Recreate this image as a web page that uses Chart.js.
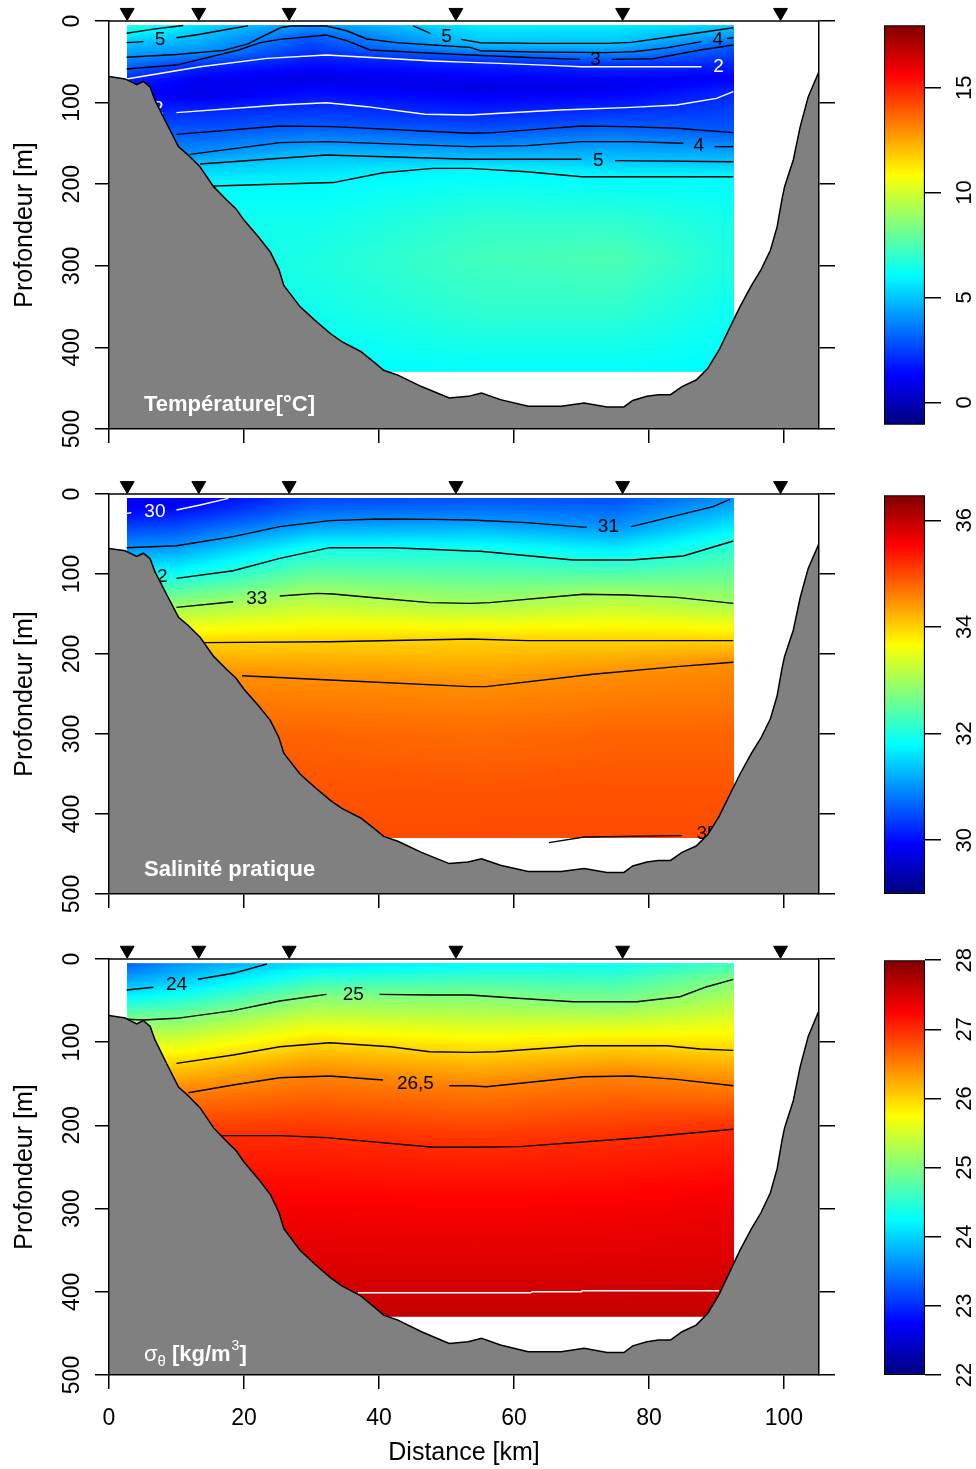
<!DOCTYPE html>
<html>
<head>
<meta charset="utf-8">
<script src="https://cdn.jsdelivr.net/npm/chart.js@4.4.1/dist/chart.umd.min.js"></script>
<style>
  body { margin: 0; background: #fff; width: 976px; height: 1469px; position: relative; overflow: hidden; }
  canvas { position: absolute; }
</style>
</head>
<body>
<canvas id="temp" width="860" height="450" style="left:0;top:0;width:860px;height:450px"></canvas>
<canvas id="sal" width="860" height="450" style="left:0;top:470px;width:860px;height:450px"></canvas>
<canvas id="sig" width="860" height="534" style="left:0;top:935px;width:860px;height:534px"></canvas>
<canvas id="cbTemp" width="116" height="450" style="left:860px;top:0;width:116px;height:450px"></canvas>
<canvas id="cbSal" width="116" height="450" style="left:860px;top:470px;width:116px;height:450px"></canvas>
<canvas id="cbSig" width="116" height="534" style="left:860px;top:935px;width:116px;height:534px"></canvas>
<script>
// axes
const DIST_MAX = 105.2;
const DEPTH_MAX = 500;
const DIST_TICKS = [0, 20, 40, 60, 80, 100];
const DEPTH_TICKS = [0, 100, 200, 300, 400, 500];

// stations (km)
const STATIONS = [2.7, 13.3, 26.7, 51.4, 76.1, 99.5];
const STATION_MARK = -10.5; // marker sits just above the surface

// bottom profile
const BATHY_KM = [0, 2.4, 4.1, 5.1, 6.1, 6.8, 8.5, 10.3, 11.7, 13.5, 15.5, 17.4, 18.8, 20.0, 22.1, 23.9, 25.2, 25.9, 28.3, 30.4,
  32.8, 34.5, 37.3, 39.4, 40.7, 42.8, 46.3, 50.4, 53.2, 55.2, 58.0, 62.1, 67.0, 70.4, 73.8, 76.3, 77.6, 79.7, 81.4, 83.2,
  84.9, 87.0, 88.7, 90.4, 91.8, 93.5, 95.2, 96.6, 98.0, 99.0, 99.7, 100.1, 101.4, 102.4, 103.6, 105.2];
const BATHY_DEPTH = [68, 71, 78, 74, 81, 97, 125, 154, 164, 179, 203, 219, 230, 244, 264, 283, 305, 324, 350, 366,
  383, 393, 405, 419, 428, 434, 448, 462, 460, 456, 464, 472, 472, 468, 473, 473, 465, 460, 458, 458,
  448, 440, 426, 403, 379, 350, 324, 305, 281, 252, 219, 203, 170, 130, 93, 62];

// gridded field extent
const FIELD_KM = [2.6, 92.6];
const FIELD_DEPTH = [5, 430];

// temperature: profiles read at a few distances
const TEMP_RANGE = [-1.07, 17.98];
const TEMP_CB_TICKS = [0, 5, 10, 15];
const TEMP_COL_KM = [2.6, 13.5, 30, 55, 75, 92.6];
const TEMP_COL_DEPTH = [
  [5, 15, 26.5, 44.5, 58.8, 71, 90, 110, 136, 160],
  [5, 16.3, 38.5, 47, 56, 75, 90, 110, 136.6, 161.8, 175.2, 200, 250, 430],
  [5, 19, 42.7, 70, 101, 129, 148, 165.5, 199, 250, 300, 350, 430],
  [5, 26.6, 36.4, 42.2, 51.4, 80, 114.5, 137, 153.7, 169.5, 182, 250, 290, 350, 430],
  [5, 27, 38.4, 47, 56, 80, 106.6, 129.2, 147.8, 171, 190.8, 250, 290, 350, 430],
  [5, 8.2, 20.5, 29.4, 52, 70, 86.6, 136.8, 154, 172.4, 190.8, 250, 300, 350, 430]
];
const TEMP_COL_VALUE = [
  [6.8, 6, 5, 4, 3, 2, 1.4, 2, 3, 4],
  [5.5, 5, 4, 3, 2, 1.0, 0.9, 2, 3, 4, 5, 6, 6.4, 6.0],
  [4.1, 3, 2, 0.8, 2, 3, 4, 5, 6, 6.4, 6.6, 6.4, 6.0],
  [5.8, 5, 4, 3, 2, 0.8, 2, 3, 4, 5, 6, 7.0, 7.3, 7.0, 6.1],
  [5.8, 5, 4, 3, 2, 0.9, 2, 3, 4, 5, 6, 7.0, 7.5, 7.0, 6.1],
  [5.3, 5, 4, 3, 2, 1.2, 2, 3, 4, 5, 6, 6.5, 6.6, 6.3, 6.0]
];
const TEMP_LEVELS = [6, 5, 5, 4, 3, 2, 2, 3, 4, 5, 6];
const TEMP_LINES = [
  [[2.6, 15], [6.6, 10], [11, 5.5]],
  [[2.6, 26.5], [5.1, 25.3], null, [10, 20.5], [13.5, 16.3], [17, 11], [20.6, 6]],
  [[45.1, 6.1], [47.6, 15.1], null, [52.2, 22.5], [55, 26.6], [62.9, 27.4], [73.7, 27.4], [77.4, 26.2], [85.1, 17.2], [92.5, 8.2]],
  [[2.6, 44.5], [10, 41], [17, 36], [20.6, 28], [23, 18], [25.5, 8], [27, 6.1], [32.2, 6.1], [35.2, 12], [38.2, 22], [42.6, 26.5],
    [48, 29.5], [53.5, 32.3], [55, 36.4], [62.9, 38], [73.7, 38.8], [77.7, 37.6], [82.6, 33], [87.8, 25.3], null, [91.6, 21.5], [92.5, 20.5]],
  [[2.6, 58.8], [10, 54], [19.2, 35.5], [22.4, 26.5], [25.3, 22.5], [32.2, 17.2], [35.2, 24], [38.7, 35.5], [48, 39.5], [53.5, 41.7],
    [62.9, 45], [69.8, 47], null, [74.5, 47], [80.6, 46.2], [87.6, 35.5], [92.5, 29.4]],
  [[2.6, 71], [13.5, 56], [23.4, 45.8], [32.2, 41.7], [38.2, 44.5], [48, 49], [53.5, 50.7], [57.9, 51.9], [66.3, 54.7], [70, 56], [87.8, 56]],
  [[10, 112.3], [25.3, 102.9], [32.2, 100.1], [38.2, 105], [46.8, 114.3], [53.5, 115.2], [57.9, 113], [66.8, 109], [77.4, 105.8],
    [84.1, 103], [90, 94.8], [92.5, 86.6]],
  [[10, 138.9], [25.3, 128.7], [33.2, 129.5], [53.5, 137.6], [56.9, 136.8], [63.3, 132.8], [70, 128.7], [76.7, 129.5], [84.1, 131.5], [92.5, 136.8]],
  [[12, 163.4], [25.3, 149], [32.2, 147.8], [53.5, 154], [61.9, 152.7], [70, 147.8], [77.4, 147.8], [85.1, 149.9], null, [89.7, 154], [92.5, 154]],
  [[13.5, 175.2], [32.2, 164.2], [53.5, 169.5], [70, 169.5], null, [75, 171.1], [92.5, 172.4]],
  [[15.5, 202.2], [33.2, 198], [40.6, 185.9], [48, 180.6], [53.5, 180.6], [61.9, 184.7], [70, 190.8], [92.5, 190.8]]
];
const TEMP_LABELS = [['5', 7.55, 23.3], ['5', 50.0, 19.2], ['4', 90.2, 23], ['3', 72.1, 47.8], ['2', 90.3, 56],
  ['2', 7.3, 108], ['4', 87.4, 153], ['5', 72.5, 171]];
const TEMP_WHITE = [2];

// salinity
const SAL_RANGE = [28.99, 36.47];
const SAL_CB_TICKS = [30, 32, 34, 36];
const SAL_COL_KM = [2.6, 10, 30, 55, 75, 92.6];
const SAL_COL_DEPTH = [
  [5, 24.2, 67.1, 105, 141, 186, 230, 300, 430],
  [5, 20, 64.6, 105.4, 141.7, 186, 227, 300, 370, 430],
  [5, 36, 72, 125, 185, 230.6, 300, 370, 430],
  [5, 32.8, 71.5, 136.4, 181.5, 240.8, 300, 370, 430],
  [5, 41.3, 82.5, 126, 183.3, 224.4, 300, 370, 428],
  [5, 6.7, 58.75, 136.7, 183.3, 210.4, 300, 370, 430]
];
const SAL_COL_VALUE = [
  [29.85, 30, 31, 32, 33, 34, 34.5, 34.8, 34.97],
  [29.75, 30, 31, 32, 33, 34, 34.5, 34.8, 34.93, 34.97],
  [30.4, 31, 32, 33, 34, 34.5, 34.8, 34.93, 34.97],
  [30.5, 31, 32, 33, 34, 34.5, 34.75, 34.92, 34.99],
  [30.5, 31, 32, 33, 34, 34.5, 34.8, 34.93, 35.0],
  [30.95, 31, 32, 33, 34, 34.5, 34.8, 34.93, 34.98]
];
const SAL_LEVELS = [30, 31, 32, 33, 34, 34.5, 35];
const SAL_LINES = [
  [[2.6, 24.2], [3.3, 23.5], null, [10, 20], [13.5, 13.75], [17.7, 5.4]],
  [[2.6, 67.1], [10, 64.6], [18.4, 53.3], [25.3, 40.8], [32.7, 33.3], [40.1, 31.25], [48, 31.7], [53.5, 32.5], [61.9, 35.8], [70.8, 41.7],
    null, [77.4, 40.8], [89.5, 15.8], [92, 6.7]],
  [[10, 105.4], [18.4, 96], [25.3, 80.4], [32.7, 67.1], [42.1, 67.1], [53.5, 71.25], [55, 71.5], [68.8, 82.5], [77.4, 82.5], [85.1, 77.5], [92.5, 58.75]],
  [[10, 141.7], [18.4, 134.6], null, [25.3, 127.5], [30.8, 124.2], [33.2, 125], [40.1, 130.4], [47.5, 135.8], [53.5, 136.7], [56.4, 135.8],
    [70.3, 125.4], [76.7, 126.25], [84.1, 129.2], [92.5, 136.7]],
  [[14.2, 185.8], [32.7, 184.6], [53.5, 181.25], [61.9, 183.3], [92.5, 183.3]],
  [[19.7, 227.1], [32.7, 232.5], [53.5, 240.8], [55.9, 240.8], [71.7, 225.4], [84.1, 215.8], [92.5, 210.4]],
  [[65.2, 435.8], [70.4, 428.7], [84.9, 427]]
];
const SAL_LABELS = [['30', 6.8, 22.1], ['31', 74.0, 40.8], ['32', 7.1, 103], ['33', 21.9, 130.4], ['35', 88.6, 425]];
const SAL_WHITE = [30];

// potential density anomaly
const SIG_RANGE = [22, 28];
const SIG_CB_TICKS = [22, 23, 24, 25, 26, 27, 28];
const SIG_COL_KM = [2.6, 10, 30, 55, 75, 92.6];
const SIG_COL_DEPTH = [
  [5, 37.3, 72.5, 100, 160, 214, 300, 430],
  [5, 30, 71.3, 125.4, 160, 214, 300, 400, 430],
  [5, 45, 102, 141.3, 214, 300, 400, 430],
  [5, 44, 112, 153.3, 226, 300, 400, 430],
  [5, 51.3, 104.2, 140.9, 217, 300, 400, 430],
  [5, 24.4, 109.8, 152.3, 204.7, 300, 398, 430]
];
const SIG_COL_VALUE = [
  [23.3, 24, 25, 25.6, 26.5, 27, 27.3, 27.6],
  [23.6, 24, 25, 26, 26.5, 27, 27.3, 27.52, 27.6],
  [24.05, 25, 26, 26.5, 27, 27.3, 27.52, 27.6],
  [24.25, 25, 26, 26.5, 27, 27.28, 27.52, 27.6],
  [24.3, 25, 26, 26.5, 27, 27.3, 27.52, 27.6],
  [24.6, 25, 26, 26.5, 27, 27.35, 27.52, 27.6]
];
const SIG_LEVELS = [24, 25, 26, 26.5, 27, 27.5];
const SIG_LINES = [
  [[2.6, 37.3], [6.57, 34], null, [13.2, 24.4], [18.4, 17.2], [23.4, 6]],
  [[2.6, 72.5], [5.08, 73.3], [10, 71.3], [18.4, 62], [25.3, 50.5], [32.2, 42.5], null, [40.1, 42.5], [47.5, 43.3], [53.5, 43.3], [59.4, 46.5],
    [68.8, 51.3], [78.2, 51.3], [84.6, 45.3], [88.6, 33.3], [92.5, 24.4]],
  [[10, 125.4], [18.4, 115.4], [25.3, 105.4], [32.7, 100.6], [41.7, 105.4], [47.5, 111.4], [53.5, 112.2], [57.4, 111.4], [69.8, 104.2],
    [82.6, 104.2], [87.6, 108.2], [92.5, 109.8]],
  [[11.75, 160.7], [18.4, 151.5], [25.3, 142.7], [32.7, 140.7], [40.6, 145.5], null, [50.4, 152.3], [53.5, 152.3], [55.9, 153.5],
    [70.3, 141.5], [77.4, 140.7], [84.1, 144.7], [92.5, 152.3]],
  [[16.7, 212.3], [25.3, 212.3], [32.2, 214.7], [48.05, 226.3], [53.5, 226.3], [60.9, 225.5], [77.7, 215.5], [92.5, 204.7]],
  [[36.9, 401.1], [62.5, 401.1], [62.7, 399.9], [70.0, 399.9], [70.1, 398.7], [90.4, 398.7]]
];
const SIG_LABELS = [['24', 10.0, 30.4], ['25', 36.2, 43.3], ['26,5', 45.4, 149.4]];
const SIG_WHITE = [27.5];

const FONT = "'Liberation Sans', Arial, Helvetica, sans-serif";
Chart.defaults.font.family = FONT;
Chart.defaults.color = '#000';

function jet(t) {
  t = Math.max(0, Math.min(1, t));
  const s = [[0, 0, 0, 0.5], [0.125, 0, 0, 1], [0.375, 0, 1, 1], [0.625, 1, 1, 0], [0.875, 1, 0, 0], [1, 0.5, 0, 0]];
  for (let i = 0; i < s.length - 1; i++) {
    const a = s[i], b = s[i + 1];
    if (t <= b[0]) {
      const f = (t - a[0]) / (b[0] - a[0]);
      const c = [1, 2, 3].map(k => Math.round(255 * (a[k] + (b[k] - a[k]) * f)));
      return 'rgb(' + c.join(',') + ')';
    }
  }
  return 'rgb(128,0,0)';
}

// value of one read profile at a depth (held flat past its ends)
function profileAt(ds, vs, d) {
  if (d <= ds[0]) return vs[0];
  for (let i = 0; i < ds.length - 1; i++) {
    if (d <= ds[i + 1]) return vs[i] + (vs[i + 1] - vs[i]) * (d - ds[i]) / (ds[i + 1] - ds[i]);
  }
  return vs[vs.length - 1];
}

// colour field + contour labels, painted under the datasets
const sectionPlugin = {
  id: 'section',
  beforeDatasetsDraw(chart, args, o) {
    const { ctx, scales: { x, y } } = chart;
    const x0 = Math.round(x.getPixelForValue(FIELD_KM[0])), x1 = Math.round(x.getPixelForValue(FIELD_KM[1]));
    const y0 = y.getPixelForValue(FIELD_DEPTH[0]), y1 = y.getPixelForValue(FIELD_DEPTH[1]);
    const span = o.range[1] - o.range[0];
    ctx.save();
    for (let px = x0; px < x1; px += 2) {
      const km = x.getValueForPixel(px + 1);
      let i = 0;
      while (i < o.colKm.length - 2 && km > o.colKm[i + 1]) i++;
      const w = Math.max(0, Math.min(1, (km - o.colKm[i]) / (o.colKm[i + 1] - o.colKm[i])));
      const g = ctx.createLinearGradient(0, y0, 0, y1);
      for (let d = FIELD_DEPTH[0]; d <= FIELD_DEPTH[1]; d += 5) {
        const v = (1 - w) * profileAt(o.colDepth[i], o.colValue[i], d) + w * profileAt(o.colDepth[i + 1], o.colValue[i + 1], d);
        const off = (y.getPixelForValue(d) - y0) / (y1 - y0);
        g.addColorStop(Math.max(0, Math.min(1, off)), jet((v - o.range[0]) / span));
      }
      ctx.fillStyle = g;
      ctx.fillRect(px, y0, Math.min(2, x1 - px), y1 - y0);
    }
    ctx.font = '19px ' + FONT;
    ctx.textAlign = 'center';
    ctx.textBaseline = 'middle';
    o.labels.forEach(([t, km, dep]) => {
      const lvl = parseFloat(t.replace(',', '.'));
      ctx.fillStyle = o.white.includes(lvl) ? '#fff' : '#000';
      ctx.fillText(t, x.getPixelForValue(km), y.getPixelForValue(dep));
    });
    ctx.restore();
  },
  afterDatasetsDraw(chart, args, o) {
    const { ctx, chartArea: a } = chart;
    ctx.save();
    ctx.strokeStyle = '#000';
    ctx.lineWidth = 1.5;
    ctx.beginPath();
    ctx.moveTo(a.left, a.top);
    ctx.lineTo(a.right, a.top);
    ctx.stroke();
    // panel caption
    ctx.fillStyle = '#fff';
    ctx.textBaseline = 'alphabetic';
    ctx.textAlign = 'left';
    let px = a.left + 35, py = a.bottom - o.captionLift;
    if (o.caption === 'sigma') {
      ctx.font = '22px ' + FONT; ctx.fillText('σ', px, py); px += ctx.measureText('σ').width;
      ctx.font = '15px ' + FONT; ctx.fillText('θ', px, py + 5); px += ctx.measureText('θ').width + 6;
      ctx.font = 'bold 22px ' + FONT; ctx.fillText('[kg/m', px, py); px += ctx.measureText('[kg/m').width + 1;
      ctx.font = '14px ' + FONT; ctx.fillText('3', px, py - 11); px += ctx.measureText('3').width;
      ctx.font = 'bold 22px ' + FONT; ctx.fillText(']', px, py);
    } else {
      ctx.font = 'bold 22px ' + FONT;
      ctx.fillText(o.caption, px, py);
    }
    ctx.restore();
  }
};

function contourSets(lines, levels, white) {
  const out = [];
  lines.forEach((pts, i) => {
    const color = white.includes(levels[i]) ? '#fff' : '#000';
    let seg = [];
    const flush = () => {
      if (seg.length > 1) out.push({ data: seg, borderColor: color, borderWidth: 1.4, pointRadius: 0, order: 2, xAxisID: 'x', yAxisID: 'y' });
      seg = [];
    };
    pts.forEach(p => { if (p === null) flush(); else seg.push({ x: p[0], y: p[1] }); });
    flush();
  });
  return out;
}

const setTicks = list => s => { s.ticks = list.map(v => ({ value: v })); };

function makePanel(id, p) {
  const datasets = contourSets(p.lines, p.levels, p.white);
  datasets.push({
    data: BATHY_KM.map((k, i) => ({ x: k, y: BATHY_DEPTH[i] })),
    borderColor: '#000', borderWidth: 1.5, backgroundColor: '#808080',
    fill: { value: DEPTH_MAX }, pointRadius: 0, order: 1, xAxisID: 'x', yAxisID: 'y'
  });
  datasets.push({
    data: STATIONS.map(k => ({ x: k, y: STATION_MARK })),
    showLine: false, pointStyle: 'triangle', pointRotation: 180, pointRadius: 8,
    pointBackgroundColor: '#000', pointBorderColor: '#000', clip: false, order: 0, xAxisID: 'x', yAxisID: 'y'
  });
  const axisGrid = len => ({ drawOnChartArea: false, drawTicks: true, tickLength: len, color: '#000', lineWidth: 1.5 });
  const axisBorder = { display: true, color: '#000', width: 1.5, z: 1 };
  return new Chart(document.getElementById(id), {
    type: 'line',
    data: { datasets },
    options: {
      responsive: false, animation: false, devicePixelRatio: 1,
      layout: { padding: { top: p.padTop, left: 0, right: 0, bottom: 0 } },
      plugins: {
        legend: { display: false }, tooltip: { enabled: false },
        section: {
          colKm: p.colKm, colDepth: p.colDepth, colValue: p.colValue, range: p.range,
          labels: p.labels, white: p.white, caption: p.caption, captionLift: p.captionLift
        }
      },
      scales: {
        x: {
          type: 'linear', position: 'bottom', min: 0, max: DIST_MAX,
          afterBuildTicks: setTicks(DIST_TICKS), afterFit: s => { s.height = p.xHeight; },
          grid: axisGrid(14), border: axisBorder,
          ticks: { display: p.showX, font: { size: 23 }, padding: 16, maxRotation: 0, autoSkip: false },
          title: { display: p.showX, text: 'Distance [km]', font: { size: 25 }, padding: { top: 0, bottom: 1 } }
        },
        y: {
          type: 'linear', position: 'left', reverse: true, min: 0, max: DEPTH_MAX,
          afterBuildTicks: setTicks(DEPTH_TICKS), afterFit: s => { s.width = 109; },
          grid: axisGrid(14), border: axisBorder,
          ticks: { font: { size: 23 }, minRotation: 90, maxRotation: 90, crossAlign: 'center', padding: 3, autoSkip: false },
          title: { display: true, text: 'Profondeur [m]', font: { size: 25 }, padding: { top: 10, bottom: 0 } }
        },
        y2: {
          type: 'linear', position: 'right', reverse: true, min: 0, max: DEPTH_MAX,
          afterBuildTicks: setTicks(DEPTH_TICKS), afterFit: s => { s.width = 41; },
          grid: axisGrid(16), border: axisBorder, ticks: { display: false }
        }
      }
    },
    plugins: [sectionPlugin]
  });
}

function makeColorbar(id, range, ticks, padTop, padBottom) {
  return new Chart(document.getElementById(id), {
    type: 'bar',
    data: {
      labels: [''],
      datasets: [{
        data: [[range[0], range[1]]],
        backgroundColor: c => {
          const ch = c.chart;
          if (!ch.chartArea) return 'transparent';
          const y = ch.scales.y;
          const g = ch.ctx.createLinearGradient(0, y.getPixelForValue(range[0]), 0, y.getPixelForValue(range[1]));
          for (let i = 0; i <= 40; i++) g.addColorStop(i / 40, jet(i / 40));
          return g;
        },
        borderColor: '#000', borderWidth: 1.5, borderSkipped: false,
        barPercentage: 1, categoryPercentage: 1
      }]
    },
    options: {
      responsive: false, animation: false, devicePixelRatio: 1,
      layout: { padding: { left: 24, top: padTop, bottom: padBottom, right: 0 } },
      plugins: { legend: { display: false }, tooltip: { enabled: false } },
      scales: {
        x: { display: false },
        y: {
          position: 'right', min: range[0], max: range[1],
          afterBuildTicks: setTicks(ticks), afterFit: s => { s.width = 51; },
          grid: { drawOnChartArea: false, drawTicks: true, tickLength: 16, color: '#000', lineWidth: 1.5 },
          border: { display: false },
          ticks: { font: { size: 22 }, minRotation: 90, maxRotation: 90, crossAlign: 'center', padding: 12, autoSkip: false }
        }
      }
    }
  });
}

makePanel('temp', {
  lines: TEMP_LINES, levels: TEMP_LEVELS, white: TEMP_WHITE, labels: TEMP_LABELS,
  colKm: TEMP_COL_KM, colDepth: TEMP_COL_DEPTH, colValue: TEMP_COL_VALUE, range: TEMP_RANGE,
  caption: 'Température[°C]', captionLift: 18, padTop: 21, xHeight: 21, showX: false
});
makePanel('sal', {
  lines: SAL_LINES, levels: SAL_LEVELS, white: SAL_WHITE, labels: SAL_LABELS,
  colKm: SAL_COL_KM, colDepth: SAL_COL_DEPTH, colValue: SAL_COL_VALUE, range: SAL_RANGE,
  caption: 'Salinité pratique', captionLift: 18, padTop: 24, xHeight: 26, showX: false
});
makePanel('sig', {
  lines: SIG_LINES, levels: SIG_LEVELS, white: SIG_WHITE, labels: SIG_LABELS,
  colKm: SIG_COL_KM, colDepth: SIG_COL_DEPTH, colValue: SIG_COL_VALUE, range: SIG_RANGE,
  caption: 'sigma', captionLift: 14, padTop: 24, xHeight: 94, showX: true
});
makeColorbar('cbTemp', TEMP_RANGE, TEMP_CB_TICKS, 21, 20);
makeColorbar('cbSal', SAL_RANGE, SAL_CB_TICKS, 24, 26);
makeColorbar('cbSig', SIG_RANGE, SIG_CB_TICKS, 24, 94);
</script>
</body>
</html>
